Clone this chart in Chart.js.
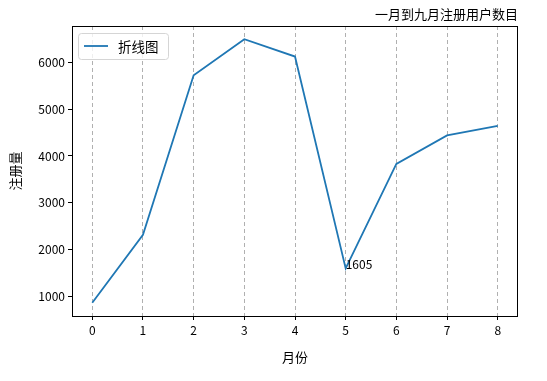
<!DOCTYPE html>
<html>
<head>
<meta charset="utf-8">
<script src="https://cdn.jsdelivr.net/npm/chart.js@4"></script>
<style>
  body { margin: 0; background: #fff; }
  canvas { display: block; }
</style>
</head>
<body>
<canvas id="userChart" width="547" height="381"></canvas>
<script>
const months = [0, 1, 2, 3, 4, 5, 6, 7, 8];
const users = [870, 2320, 5720, 6490, 6120, 1605, 3830, 4440, 4640];
const yTicks = [1000, 2000, 3000, 4000, 5000, 6000];
const markedIndex = 5;

const titleText = "一月到九月注册用户数目";
const legendText = "折线图";
const FONT = '"Noto Sans CJK SC", "DejaVu Sans", sans-serif';

// box, titles, legend and the 1605 label
const decorPlugin = {
  id: "decor",
  afterDraw(chart) {
    const { ctx, chartArea: a } = chart;
    ctx.save();

    ctx.strokeStyle = "#000";
    ctx.lineWidth = 1;
    ctx.strokeRect(a.left + 0.5, a.top + 0.5, a.right - a.left - 1, a.bottom - a.top);

    ctx.fillStyle = "#000";
    ctx.font = "13px " + FONT;
    ctx.textAlign = "right";
    ctx.textBaseline = "middle";
    ctx.fillText(titleText, a.right, 14);

    ctx.textAlign = "center";
    ctx.fillText("月份", (a.left + a.right) / 2, 357);

    ctx.save();
    ctx.translate(15, (a.top + a.bottom) / 2);
    ctx.rotate(-Math.PI / 2);
    ctx.fillText("注册量", 0, 0);
    ctx.restore();

    // legend box
    const lx = a.left + 6, ly = a.top + 7, lw = 90, lh = 26;
    ctx.beginPath();
    ctx.roundRect(lx + 0.5, ly + 0.5, lw, lh, 3);
    ctx.fillStyle = "rgba(255,255,255,0.8)";
    ctx.fill();
    ctx.strokeStyle = "#d5d5d5";
    ctx.stroke();
    ctx.beginPath();
    ctx.moveTo(lx + 6, ly + 13);
    ctx.lineTo(lx + 30, ly + 13);
    ctx.strokeStyle = "#1f77b4";
    ctx.lineWidth = 1.8;
    ctx.stroke();
    ctx.fillStyle = "#000";
    ctx.textAlign = "left";
    ctx.font = "13.5px " + FONT;
    ctx.fillText(legendText, lx + 40, ly + 13.5);

    // value label at the dip
    const xs = chart.scales.x, ys = chart.scales.y;
    ctx.font = "12px " + FONT;
    ctx.textBaseline = "alphabetic";
    ctx.fillText(String(users[markedIndex]),
      xs.getPixelForValue(months[markedIndex]),
      ys.getPixelForValue(users[markedIndex]) + 1);

    ctx.restore();
  }
};

new Chart(document.getElementById("userChart"), {
  type: "line",
  data: {
    datasets: [{
      label: legendText,
      data: months.map((m, i) => ({ x: m, y: users[i] })),
      borderColor: "#1f77b4",
      borderWidth: 1.8,
      pointRadius: 0,
      tension: 0,
      fill: false
    }]
  },
  options: {
    responsive: false,
    animation: false,
    layout: { padding: { top: 26, right: 29, left: 0, bottom: 0 } },
    plugins: {
      legend: { display: false },
      title: { display: false },
      tooltip: { enabled: false }
    },
    scales: {
      x: {
        type: "linear",
        min: -0.4,
        max: 8.4,
        afterBuildTicks: (scale) => { scale.ticks = months.map(v => ({ value: v })); },
        afterFit: (scale) => { scale.height = 65; },
        grid: {
          color: "#b0b0b0",
          lineWidth: 1,
          tickLength: 4,
          tickColor: "#000",
          tickBorderDash: []
        },
        border: { display: false, dash: [4, 3] },
        ticks: {
          color: "#000",
          padding: 3,
          maxRotation: 0,
          callback: (v) => String(v),
          font: { family: FONT, size: 12 }
        }
      },
      y: {
        min: 589,
        max: 6771,
        afterBuildTicks: (scale) => { scale.ticks = yTicks.map(v => ({ value: v })); },
        afterFit: (scale) => { scale.width = 72; },
        grid: {
          drawOnChartArea: false,
          tickLength: 4,
          tickColor: "#000"
        },
        border: { display: false },
        ticks: {
          color: "#000",
          padding: 3,
          callback: (v) => String(v),
          font: { family: FONT, size: 12 }
        }
      }
    }
  },
  plugins: [decorPlugin]
});
</script>
</body>
</html>
